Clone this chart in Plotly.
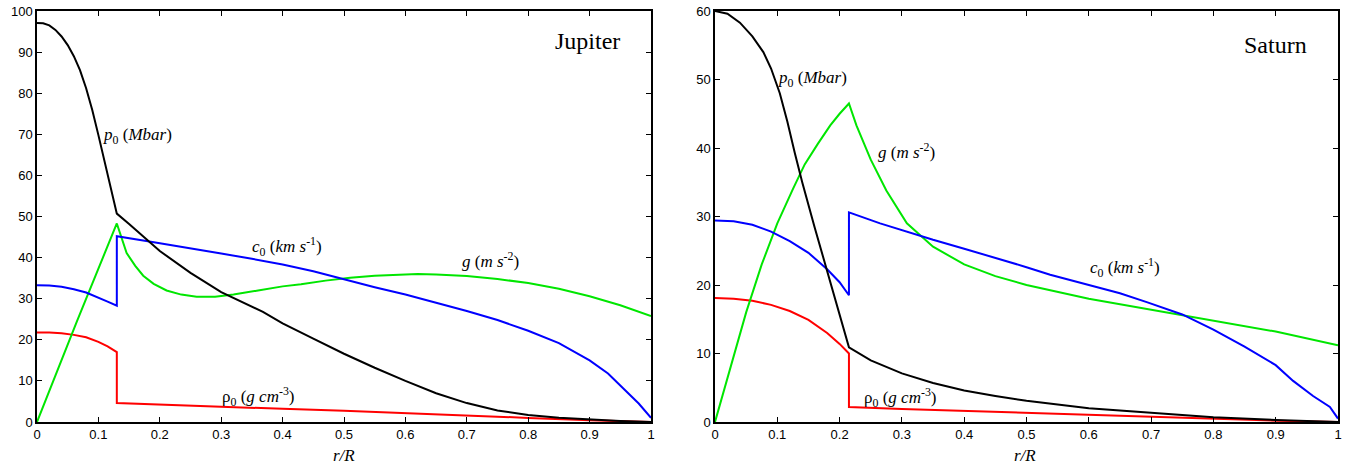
import plotly.graph_objects as go

# ---------------- Jupiter data ----------------
jup_p_r = [0, 0.01, 0.02, 0.03, 0.04, 0.05, 0.06, 0.07, 0.08, 0.09, 0.10, 0.11, 0.12, 0.13,
           0.15, 0.183, 0.2, 0.25, 0.3, 0.368, 0.4, 0.45, 0.5, 0.55, 0.6, 0.65, 0.7, 0.75,
           0.8, 0.85, 0.9, 0.95, 1.0]
jup_p_v = [97.1, 97.0, 96.5, 95.4, 93.8, 91.7, 89.0, 85.6, 81.2, 75.9, 69.8, 63.5, 57.1, 50.7,
           48.2, 43.9, 41.6, 36.3, 31.6, 26.8, 24.0, 20.3, 16.6, 13.2, 10.0, 7.0, 4.6, 2.8,
           1.7, 1.05, 0.6, 0.25, 0.0]

jup_g_r = [0, 0.065, 0.13, 0.146, 0.16, 0.173, 0.19, 0.211, 0.235, 0.26, 0.29, 0.32, 0.36, 0.4,
           0.43, 0.47, 0.51, 0.55, 0.6, 0.62, 0.65, 0.7, 0.75, 0.8, 0.85, 0.9, 0.95, 1.0]
jup_g_v = [0, 24.5, 48.3, 41.1, 38.0, 35.6, 33.6, 32.0, 31.0, 30.5, 30.5, 31.0, 32.0, 33.0,
           33.5, 34.4, 35.1, 35.6, 35.9, 36.0, 35.9, 35.5, 34.8, 33.8, 32.4, 30.6, 28.4, 25.8]

jup_c_r = [0, 0.02, 0.04, 0.06, 0.08, 0.1, 0.115, 0.13, 0.13, 0.183, 0.25, 0.3, 0.35, 0.4, 0.45,
           0.493, 0.55, 0.6, 0.65, 0.7, 0.75, 0.8, 0.85, 0.9, 0.93, 0.96, 0.98, 1.0]
jup_c_v = [33.3, 33.2, 32.9, 32.3, 31.5, 30.3, 29.3, 28.3, 45.2, 43.9, 42.3, 41.0, 39.7, 38.3, 36.7,
           35.0, 32.8, 31.0, 29.0, 27.0, 24.8, 22.2, 19.2, 15.0, 11.8, 7.5, 4.5, 1.0]

jup_rho_r = [0, 0.02, 0.04, 0.06, 0.08, 0.1, 0.115, 0.13, 0.13, 0.2, 0.3, 0.4, 0.5, 0.6, 0.7,
             0.8, 0.9, 0.97, 1.0]
jup_rho_v = [21.8, 21.8, 21.6, 21.2, 20.6, 19.5, 18.4, 17.0, 4.6, 4.2, 3.7, 3.2, 2.75, 2.2, 1.7,
             1.0, 0.4, 0.1, 0.0]

# ---------------- Saturn data ----------------
sat_p_r = [0, 0.02, 0.04, 0.06, 0.0776, 0.09, 0.104, 0.116, 0.128, 0.14, 0.16, 0.18, 0.2, 0.215,
           0.25, 0.3, 0.35, 0.4, 0.45, 0.5, 0.6, 0.7, 0.8, 0.9, 1.0]
sat_p_v = [60.0, 59.6, 58.3, 56.3, 54.0, 51.6, 48.0, 43.9, 39.3, 35.0, 28.4, 21.9, 15.5, 10.9,
           9.0, 7.1, 5.7, 4.6, 3.8, 3.1, 2.0, 1.3, 0.7, 0.3, 0.0]

sat_g_r = [0, 0.025, 0.05, 0.075, 0.1, 0.125, 0.144, 0.165, 0.185, 0.2, 0.215, 0.227, 0.25, 0.275,
           0.308, 0.35, 0.4, 0.45, 0.5, 0.6, 0.7, 0.75, 0.8, 0.9, 1.0]
sat_g_v = [0, 8.2, 16.0, 23.0, 29.0, 34.0, 37.6, 40.6, 43.3, 45.0, 46.5, 43.3, 38.3, 33.8,
           29.0, 25.6, 23.0, 21.3, 20.0, 18.0, 16.4, 15.6, 14.9, 13.2, 11.2]

sat_c_r = [0, 0.03, 0.06, 0.09, 0.12, 0.15, 0.18, 0.2, 0.215, 0.215, 0.265, 0.3, 0.35, 0.4, 0.45,
           0.5, 0.538, 0.6, 0.65, 0.693, 0.75, 0.8, 0.85, 0.9, 0.928, 0.96, 0.987, 1.0]
sat_c_v = [29.4, 29.3, 28.8, 27.8, 26.4, 24.7, 22.3, 20.4, 18.5, 30.6, 29.0, 28.0, 26.6, 25.3, 24.0,
           22.6, 21.5, 20.0, 18.8, 17.5, 15.7, 13.5, 11.0, 8.3, 6.0, 3.8, 2.2, 0.5]

sat_rho_r = [0, 0.03, 0.06, 0.09, 0.12, 0.15, 0.18, 0.2, 0.215, 0.215, 0.3, 0.4, 0.5, 0.6, 0.7,
             0.8, 0.9, 1.0]
sat_rho_v = [18.1, 18.0, 17.7, 17.1, 16.2, 14.9, 13.0, 11.4, 10.0, 2.2, 1.9, 1.6, 1.3, 1.0, 0.7,
             0.45, 0.2, 0.0]

# ---------------- labels ----------------
x_ticks = [0, 0.1, 0.2, 0.3, 0.4, 0.5, 0.6, 0.7, 0.8, 0.9, 1]
x_tick_text = ["0", "0.1", "0.2", "0.3", "0.4", "0.5", "0.6", "0.7", "0.8", "0.9", "1"]
jup_y_ticks = [0, 10, 20, 30, 40, 50, 60, 70, 80, 90, 100]
sat_y_ticks = [0, 10, 20, 30, 40, 50, 60]

lbl_p = "<i>p</i><sub>0</sub> (<i>Mbar</i>)"
lbl_c = "<i>c</i><sub>0</sub> (<i>km s</i><sup>-1</sup>)"
lbl_g = "<i>g</i> (<i>m s</i><sup>-2</sup>)"
lbl_rho = "ρ<sub>0</sub> (<i>g cm</i><sup>-3</sup>)"

BLACK, BLUE, GREEN, RED = "#000000", "#0000ff", "#00e600", "#ff0000"

fig = go.Figure()

def add(r, v, color, xa, ya):
    fig.add_trace(go.Scatter(x=r, y=v, mode="lines", line=dict(color=color, width=2),
                             xaxis=xa, yaxis=ya, showlegend=False, hoverinfo="skip"))

for r, v, c in [(jup_rho_r, jup_rho_v, RED), (jup_g_r, jup_g_v, GREEN),
                (jup_c_r, jup_c_v, BLUE), (jup_p_r, jup_p_v, BLACK)]:
    add(r, v, c, "x", "y")
for r, v, c in [(sat_rho_r, sat_rho_v, RED), (sat_g_r, sat_g_v, GREEN),
                (sat_c_r, sat_c_v, BLUE), (sat_p_r, sat_p_v, BLACK)]:
    add(r, v, c, "x2", "y2")

tickfont = dict(family="Liberation Sans, Arial, sans-serif", size=13, color="#000")
axis_common = dict(showline=True, linecolor="#000", linewidth=1.5, mirror="allticks",
                   ticks="inside", ticklen=5, tickwidth=1, tickcolor="#000",
                   showgrid=False, zeroline=False, tickfont=tickfont,
                   ticklabeloverflow="allow")

W, H = 1363, 469
L, R, T, B = 37, 25, 4, 47
pw = W - L - R
d1 = (651 - L) / pw
d2 = (715 - L) / pw

fig.update_layout(
    width=W, height=H, margin=dict(l=L, r=R, t=T, b=B),
    paper_bgcolor="white", plot_bgcolor="white",
    xaxis=dict(domain=[0, d1], range=[0, 1], tickvals=x_ticks, ticktext=x_tick_text,
               anchor="y", **axis_common),
    yaxis=dict(domain=[0, 1], range=[0, 100], tickvals=jup_y_ticks, anchor="x", **axis_common),
    xaxis2=dict(domain=[d2, 1], range=[0, 1], tickvals=x_ticks, ticktext=x_tick_text,
                anchor="y2", **axis_common),
    yaxis2=dict(domain=[0, 1], range=[0, 60], tickvals=sat_y_ticks, anchor="x2", **axis_common),
)

serif = "Liberation Serif, Times New Roman, serif"
ann = []
def note(x, y, text, xr, yr, size=17):
    ann.append(dict(x=x, y=y, xref=xr, yref=yr, text=text, showarrow=False,
                    font=dict(family=serif, size=size, color="#000"),
                    xanchor="center", yanchor="middle"))

note(0.163, 69.6, lbl_p, "x", "y")
note(0.407, 42.8, lbl_c, "x", "y")
note(0.739, 39.5, lbl_g, "x", "y")
note(0.36, 6.2, lbl_rho, "x", "y")
note(0.896, 92.6, "Jupiter", "x", "y", size=24)

note(0.156, 50.1, lbl_p, "x2", "y2")
note(0.308, 39.6, lbl_g, "x2", "y2")
note(0.658, 22.5, lbl_c, "x2", "y2")
note(0.297, 3.6, lbl_rho, "x2", "y2")
note(0.90, 55.1, "Saturn", "x2", "y2", size=24)

ax_y = -(456 - 422) / 418
note(0.5, ax_y, "<i>r/R</i>", "x", "paper", size=17)
note(0.498, ax_y, "<i>r/R</i>", "x2", "paper", size=17)

fig.update_layout(annotations=ann)
fig.write_html("out.html", config={"displayModeBar": False},
               post_script="document.body.style.margin='0';document.body.style.overflow='hidden';")
